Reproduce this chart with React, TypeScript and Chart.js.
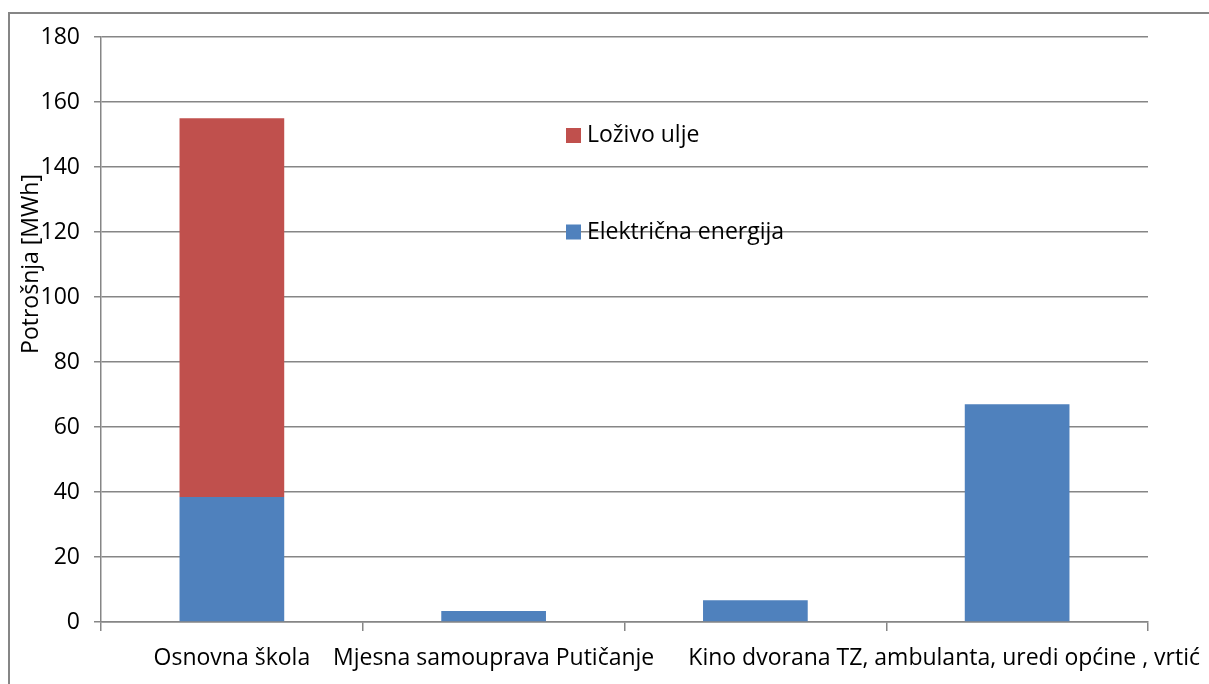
import React, { useEffect, useRef } from "react";
import { Chart, registerables } from "chart.js";

Chart.register(...registerables);

// ---- Data ----
const categories = [
  "Osnovna škola",
  "Mjesna samouprava Putičanje",
  "",
  "Kino dvorana TZ, ambulanta, uredi općine , vrtić",
];
const electricity = [38.5, 3.4, 6.7, 67];
const heatingOil = [116.5, 0, 0, 0];
const seriesNames = ["Električna energija", "Loživo ulje"];
const yAxisTitle = "Potrošnja [MWh]";
const yMin = 0;
const yMax = 180;
const yStep = 20;

const FONT = '"Open Sans", sans-serif';
const FSIZE = 23;
const GRID = "#868686";
const BLUE = "#4F81BD";
const RED = "#C0504D";

const decorPlugin = {
  id: "decor",
  beforeDraw(chart: any) {
    const ctx = chart.ctx;
    ctx.save();
    ctx.strokeStyle = GRID;
    ctx.lineWidth = 2;
    ctx.beginPath();
    ctx.moveTo(9, chart.height);
    ctx.lineTo(9, 13);
    ctx.lineTo(chart.width, 13);
    ctx.stroke();
    ctx.restore();
  },
  afterDraw(chart: any) {
    const ctx = chart.ctx;
    const xs = chart.scales.x;
    ctx.save();
    ctx.fillStyle = "#000";
    ctx.font = `${FSIZE}px ${FONT}`;
    ctx.textBaseline = "middle";
    ctx.textAlign = "left";
    // category labels
    categories.forEach((lab, i) => {
      if (!lab) return;
      const cx = xs.getPixelForValue(i);
      const w = ctx.measureText(lab).width;
      let left = cx - w / 2;
      const maxRight = chart.width - 9;
      if (left + w > maxRight) left = maxRight - w;
      ctx.fillText(lab, left, 658);
    });
    // legend (custom, inside plot)
    const entries = [
      { label: seriesNames[1], color: RED, y: 135.5 },
      { label: seriesNames[0], color: BLUE, y: 232 },
    ];
    entries.forEach((e) => {
      ctx.fillStyle = e.color;
      ctx.fillRect(566, e.y - 7.5, 15, 15);
      ctx.fillStyle = "#000";
      ctx.fillText(e.label, 587, e.y);
    });
    // y-axis title
    ctx.translate(31, 264);
    ctx.rotate(-Math.PI / 2);
    ctx.textAlign = "center";
    ctx.fillText(yAxisTitle, 0, 0);
    ctx.restore();
  },
};

export default function App() {
  const ref = useRef<HTMLCanvasElement | null>(null);
  useEffect(() => {
    if (!ref.current) return;
    const chart = new Chart(ref.current, {
      type: "bar",
      data: {
        labels: categories,
        datasets: [
          {
            label: seriesNames[0],
            data: electricity,
            backgroundColor: BLUE,
            barPercentage: 0.4,
            categoryPercentage: 1,
          },
          {
            label: seriesNames[1],
            data: heatingOil,
            backgroundColor: RED,
            barPercentage: 0.4,
            categoryPercentage: 1,
          },
        ],
      },
      options: {
        animation: false,
        responsive: true,
        maintainAspectRatio: false,
        layout: { padding: { top: 37, right: 61, left: 0, bottom: 0 } },
        plugins: {
          legend: { display: false },
          tooltip: { enabled: false },
        },
        scales: {
          x: {
            stacked: true,
            grid: {
              drawOnChartArea: false,
              color: GRID,
              lineWidth: 1.5,
              tickLength: 9,
              offset: true,
            },
            border: { color: GRID, width: 1.5 },
            ticks: { display: false },
            afterFit: (s: any) => {
              s.height = 62;
            },
          },
          y: {
            stacked: true,
            min: yMin,
            max: yMax,
            ticks: {
              stepSize: yStep,
              color: "#000",
              padding: 14,
              font: { family: FONT, size: FSIZE },
            },
            grid: { color: GRID, lineWidth: 1.5, tickLength: 7 },
            border: { color: GRID, width: 1.5 },
            afterFit: (s: any) => {
              s.width = 101;
            },
          },
        },
      },
      plugins: [decorPlugin],
    });
    return () => chart.destroy();
  }, []);
  return (
    <div style={{ position: "fixed", left: 0, top: 0, width: 1209, height: 684, background: "#fff" }}>
      <canvas ref={ref} />
    </div>
  );
}
